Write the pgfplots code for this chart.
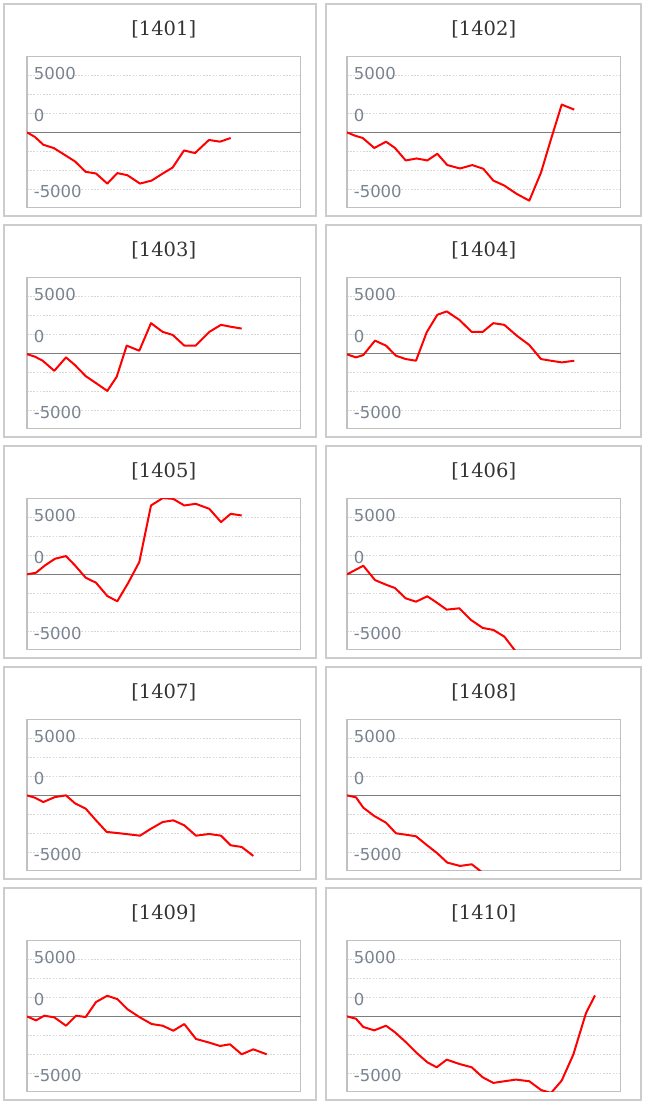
\documentclass[border=0pt]{standalone}
\usepackage{pgfplots}
\pgfplotsset{compat=1.18}
\usepackage{fontspec}
\newfontfamily\tickfam{DejaVu Sans}
\newfontfamily\titlefam{DejaVu Serif}
\definecolor{panelgray}{RGB}{204,204,204}
\definecolor{boxgray}{RGB}{192,192,192}
\definecolor{gridgray}{RGB}{214,214,214}
\definecolor{zerogray}{RGB}{125,125,125}
\definecolor{labelgray}{RGB}{122,132,145}
\definecolor{titlegray}{RGB}{51,51,51}
\pgfplotsset{
 panel/.style={
  scale only axis, width=273.5bp, height=151bp, anchor=north west,
  xmin=0, xmax=273.5, ymin=-9900, ymax=10000,
  axis line style={draw=boxgray, line width=1.5bp},
  xtick=\empty, scaled y ticks=false,
  ytick={-7800,2200,7700}, yticklabels={-5000,0,5000},
  ytick pos=left,
  major tick length=0pt, minor tick length=0pt,
  minor ytick={-7500,-5000,-2500,2500,5000,7500},
  yminorgrids=true,
  minor grid style={draw=gridgray, line width=0.8bp, dash pattern=on 1.6bp off 1.6bp},
  yticklabel style={anchor=west, inner sep=0pt, xshift=6.6bp, font={\tickfam\fontsize{16.5bp}{18bp}\selectfont}, text=labelgray},
  execute at begin axis={\addplot[zerogray, line width=1.6bp, no marks, forget plot] coordinates {(0,0) (273.5,0)};},
 },
 ser/.style={red, line width=2bp, line join=round, no marks},
}
\newcommand{\ttl}[3]{\node[anchor=base, text=titlegray, font={\titlefam\fontsize{19.5bp}{22bp}\selectfont}] at (#1bp,#2bp) {#3};}
\begin{document}
\begin{tikzpicture}
\useasboundingbox (0,0) rectangle (649bp,1105bp);
\fill[white] (0,0) rectangle (649bp,1105bp);
% panels
\foreach \t in {1101,880,659,438,217}{
  \draw[panelgray, line width=2bp] (3.5bp,\t bp) rectangle (316bp,\t bp-212.5bp);
  \draw[panelgray, line width=2bp] (326bp,\t bp) rectangle (641bp,\t bp-212.5bp);
}
\ttl{163.75}{1069.5}{[1401]}
\ttl{483.75}{1069.5}{[1402]}
\ttl{163.75}{848.5}{[1403]}
\ttl{483.75}{848.5}{[1404]}
\ttl{163.75}{627.5}{[1405]}
\ttl{483.75}{627.5}{[1406]}
\ttl{163.75}{406.5}{[1407]}
\ttl{483.75}{406.5}{[1408]}
\ttl{163.75}{185.5}{[1409]}
\ttl{483.75}{185.5}{[1410]}

% 1401
\begin{axis}[panel, at={(27bp,1048.5bp)}]
\addplot[ser] coordinates {(0,0) (8,-610) (16.3,-1630) (26.8,-2070) (37.5,-2950) (48,-3830) (58.7,-5200) (69,-5420) (80.3,-6750) (90.3,-5370) (100.3,-5640) (113,-6750) (124.7,-6350) (135.3,-5460) (145.7,-4630) (157,-2380) (168,-2730) (182,-1000) (193,-1230) (203.7,-740)};
\end{axis}
% 1402
\begin{axis}[panel, at={(347bp,1048.5bp)}]
\addplot[ser] coordinates {(0,0) (8,-440) (15.7,-740) (27.3,-2060) (39,-1230) (48,-2060) (58.7,-3700) (69.7,-3440) (80.3,-3700) (90.3,-2820) (100.3,-4310) (113,-4760) (125.3,-4310) (136.3,-4800) (146.3,-6350) (157.3,-7010) (169.7,-8110) (182.3,-9000) (194,-5300) (204,-900) (214.7,3660) (227.3,3000)};
\end{axis}
% 1403
\begin{axis}[panel, at={(27bp,827.5bp)}]
\addplot[ser] coordinates {(0,-100) (8,-440) (15.7,-970) (27.3,-2300) (39,-530) (48,-1550) (58.7,-3000) (69.7,-3980) (80.3,-4950) (89.7,-3090) (99.7,1020) (112.3,350) (124,3980) (135.7,2830) (145.7,2430) (157.3,1020) (168.7,1020) (182.3,2830) (194,3760) (204,3500) (214.7,3270)};
\end{axis}
% 1404
\begin{axis}[panel, at={(347bp,827.5bp)}]
\addplot[ser] coordinates {(0,-130) (9,-530) (16.3,-220) (28,1680) (39,1020) (49,-310) (58.7,-750) (69,-970) (79.7,2780) (90.3,5080) (99.7,5530) (112.3,4420) (124.7,2830) (135.7,2830) (146.3,3980) (157.3,3760) (169.7,2340) (182.3,1100) (194,-750) (204,-970) (214.7,-1190) (227.3,-970)};
\end{axis}
% 1405
\begin{axis}[panel, at={(27bp,606.5bp)}]
\addplot[ser] coordinates {(0,0) (9,220) (18,1180) (28,2060) (39,2410) (48,1180) (58.7,-440) (69,-1100) (80.3,-2850) (90.3,-3550) (101.3,-1100) (112.3,1620) (124,9080) (135.7,10050) (146.3,9950) (157.3,9080) (168.7,9300) (182.3,8640) (194,6890) (203.7,7980) (214.7,7760)};
\end{axis}
% 1406
\begin{axis}[panel, at={(347bp,606.5bp)}]
\addplot[ser] coordinates {(0,0) (16.3,1140) (28,-750) (39,-1360) (48,-1800) (58.7,-3160) (69,-3600) (80.3,-2890) (90.3,-3770) (99.7,-4650) (112.3,-4470) (124,-6010) (135.7,-7060) (146.3,-7320) (157.3,-8200) (169,-10200)};
\end{axis}
% 1407
\begin{axis}[panel, at={(27bp,385.5bp)}]
\addplot[ser] coordinates {(0,0) (8,-310) (16.3,-880) (28,-220) (39,0) (48,-1050) (58.7,-1750) (69,-3290) (79.7,-4820) (90.3,-4960) (101.3,-5130) (113,-5310) (124,-4390) (135.7,-3510) (146.3,-3290) (157.3,-3950) (169,-5310) (182.3,-5090) (194,-5310) (203.7,-6580) (214.7,-6800) (226.3,-7980)};
\end{axis}
% 1408
\begin{axis}[panel, at={(347bp,385.5bp)}]
\addplot[ser] coordinates {(0,0) (9,-260) (16.3,-1620) (27.3,-2720) (39,-3600) (49,-5000) (58.7,-5180) (69,-5390) (79.7,-6540) (90.3,-7630) (100.3,-8860) (113,-9300) (124.7,-9080) (135.7,-10200)};
\end{axis}
% 1409
\begin{axis}[panel, at={(27bp,164.5bp)}]
\addplot[ser] coordinates {(0,0) (9,-530) (17.3,90) (27.3,-130) (39,-1230) (49,90) (58.7,-90) (69,1890) (80.3,2720) (90.3,2280) (100.3,960) (112.3,-90) (124.7,-1010) (135.7,-1230) (146.3,-1890) (157.3,-1010) (169,-2980) (181.3,-3420) (193,-3900) (203,-3680) (214.7,-5000) (226.3,-4340) (239.7,-5000)};
\end{axis}
% 1410
\begin{axis}[panel, at={(347bp,164.5bp)}]
\addplot[ser] coordinates {(0,0) (9,-310) (16.3,-1400) (27.3,-1840) (39,-1230) (48,-2100) (58.7,-3380) (69.7,-4820) (80.3,-6050) (89.7,-6710) (99.7,-5700) (112.3,-6270) (124.7,-6710) (135.7,-8030) (146.3,-8770) (157.3,-8550) (169,-8330) (182.3,-8550) (194,-9700) (204,-10100) (214.7,-8460) (226.3,-5040) (239,440) (248,2760)};
\end{axis}
\end{tikzpicture}
\end{document}
